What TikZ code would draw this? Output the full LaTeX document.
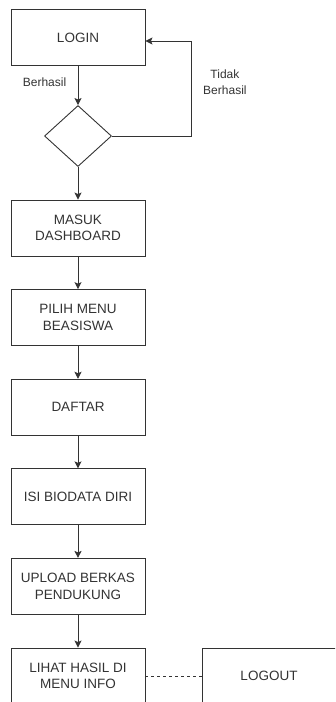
\documentclass[tikz,border=0pt]{standalone}
\usepackage{fontspec}
\setmainfont{Liberation Sans}
\usetikzlibrary{shapes.geometric, arrows.meta, positioning}

\begin{document}
\begin{tikzpicture}[x=1pt, y=1pt, node distance={89.6pt}, line width=0.9pt, color=black!80,
    main/.style = {draw, rectangle, minimum width=134pt, minimum height=56pt, align=center, font=\fontsize{13.5}{16.5}\selectfont},
    decision/.style = {draw, diamond, minimum width=67pt, minimum height=61pt, inner sep=0pt},
    lbl/.style = {align=center, font=\fontsize{12}{15.5}\selectfont},
    >={Stealth[length=7pt, width=7pt, inset=1.5pt]}]
            \useasboundingbox (-78,37.5) rectangle (257,-664.5);
            \clip (-78,37.5) rectangle (257,-664.5);
            \node[main] (login) {LOGIN};
            \node[decision] (dec) [below of=login, node distance=98.5pt] {};
            \node[main] (masuk) [below of=dec, node distance=92pt] {MASUK\\DASHBOARD};
            \node[main] (pilih) [below of=masuk] {PILIH MENU\\BEASISWA};
            \node[main] (daftar) [below of=pilih] {DAFTAR};
            \node[main] (isi) [below of=daftar] {ISI BIODATA DIRI};
            \node[main] (upload) [below of=isi] {UPLOAD BERKAS\\PENDUKUNG};
            \node[main] (lihat) [below of=upload] {LIHAT HASIL DI\\MENU INFO};
            \node[main] (logout) [right of=lihat, node distance=191pt] {LOGOUT};
            \draw[->] (login) -- node[lbl, left=8pt, pos=0.42] {Berhasil} (dec);
            \draw[->] (dec.east) -- ++(79,0) |- node[lbl, right=8.5pt, pos=0.284] {Tidak\\Berhasil} ([yshift=-3.5pt]login.east);
            \draw[->] (dec) -- (masuk);
            \draw[->] (masuk) -- (pilih);
            \draw[->] (pilih) -- (daftar);
            \draw[->] (daftar) -- (isi);
            \draw[->] (isi) -- (upload);
            \draw[->] (upload) -- (lihat);
            \draw[dashed] (lihat) -- (logout);
        \end{tikzpicture}
\end{document}
